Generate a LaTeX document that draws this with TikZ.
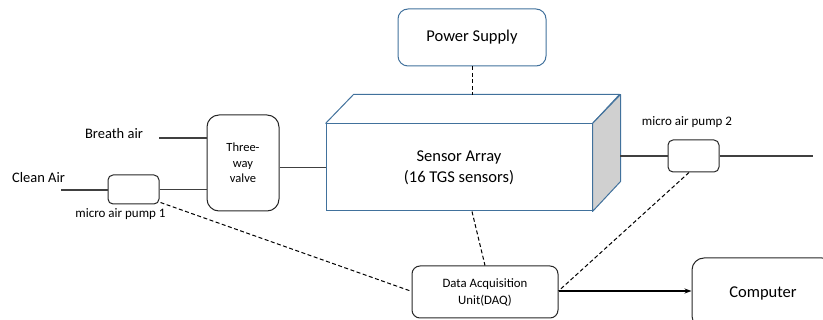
\documentclass[tikz,border=0pt]{standalone}
\usepackage{fontspec}
\setmainfont{Carlito}
\usetikzlibrary{calc,arrows.meta}
\definecolor{bluebd}{HTML}{41719C}
\definecolor{linec}{HTML}{404040}
\definecolor{sidegray}{HTML}{D0D0D0}
\tikzset{
  box/.style={draw=black!85, line width=1pt, rounded corners=#1, align=center, inner sep=0pt},
  box/.default=6pt,
  conn/.style={draw=linec, line width=1.4pt},
  dconn/.style={draw=black, line width=1pt, dash pattern=on 4pt off 2.5pt},
  lbl/.style={inner sep=0pt, align=center}
}
\begin{document}
\begin{tikzpicture}[x=1pt,y=-1pt]
\useasboundingbox (0,0) rectangle (823,320);
\clip (0,0) rectangle (823,320);
% Power supply
\node[box=10pt, draw=bluebd, minimum width=148pt, minimum height=57pt,
  font=\fontsize{16.5}{20}\selectfont] (ps) at (472,37.5) {Power Supply};
% Sensor array cuboid
\node[draw=bluebd, line width=1pt, fill=white, minimum width=266pt, minimum height=87pt, inner sep=0pt,
  align=center, font=\fontsize{16.5}{21}\selectfont] (sensor) at (459,167.5) {Sensor Array\\(16 TGS sensors)};
\draw[bluebd, line width=1pt, line join=round] (sensor.north west) -- ++(28,-29) -- ++(266,0) -- (sensor.north east);
\draw[bluebd, line width=1pt, fill=sidegray, line join=round] (sensor.north east) -- ++(28,-29) -- ++(0,87) -- (sensor.south east) -- cycle;
\coordinate (sensortop) at (472,95);
\coordinate (sensorback) at (620,156);
% Three-way valve
\node[box=12pt, minimum width=72pt, minimum height=96pt, font=\fontsize{12.5}{15.5}\selectfont] (valve) at (243,163) {Three-\\way\\valve};
% Pumps
\node[box=5pt, minimum width=51pt, minimum height=29pt] (pump1) at (133.5,189.5) {};
\node[lbl, font=\fontsize{13}{15}\selectfont] (p1lbl) at (120.5,214) {micro air pump 1};
\node[box=5pt, minimum width=51pt, minimum height=32pt] (pump2) at (693.5,156) {};
\node[lbl, font=\fontsize{13}{15}\selectfont] (p2lbl) at (687,122) {micro air pump 2};
% Labels
\node[lbl, font=\fontsize{14.5}{17}\selectfont] (clean) at (38.5,178) {Clean Air};
\node[lbl, font=\fontsize{14.5}{17}\selectfont] (breath) at (114,134) {Breath air};
\coordinate (cleanend) at (61,190);
\coordinate (breathend) at (159,138);
\coordinate (outend) at (813,156);
% DAQ and computer
\node[box=8pt, minimum width=146pt, minimum height=52pt, font=\fontsize{12.8}{17}\selectfont] (daq) at (485,292) {Data Acquisition\\Unit(DAQ)};
\node[box=12pt, minimum width=142pt, minimum height=70pt, font=\fontsize{16.5}{20}\selectfont] (comp) at (763,293) {Computer};
% Solid connectors
\draw[conn] (cleanend) -- (pump1.west |- cleanend);
\draw[conn] (pump1.east) -- (pump1.east -| valve.west);
\draw[conn] (breathend) -- (valve.west |- breathend);
\draw[conn] (valve.east |- sensor.west) -- (sensor.west);
\draw[conn] (sensorback) -- (pump2.west);
\draw[conn] (pump2.east) -- (outend);
\draw[draw=black, line width=1.2pt, -{Stealth[length=7pt,width=5pt]}] (daq.east |- 0,291) -- (comp.west |- 0,291);
% Dashed connectors
\draw[dconn] (ps.south) -- (sensortop);
\draw[dconn] (sensor.south -| sensortop) -- (daq.north);
\draw[dconn] ($(pump1.south east)+(1,-2)$) -- ($(daq.west)+(-1,-1)$);
\draw[dconn] ($(pump2.south)+(-4.5,0)$) -- ($(daq.east)+(0,-1)$);
\end{tikzpicture}
\end{document}
